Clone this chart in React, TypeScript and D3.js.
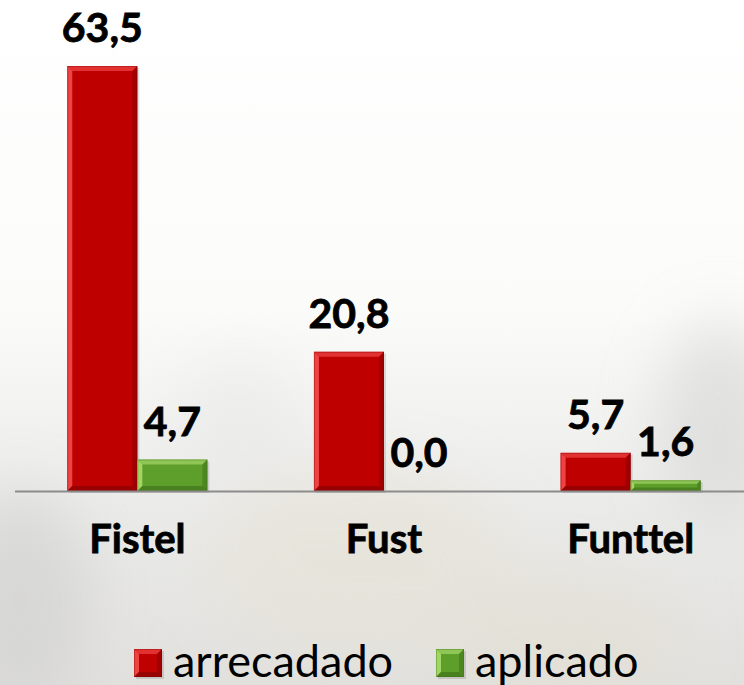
import React from "react";
import * as d3 from "d3";

const categories = ["Fistel", "Fust", "Funttel"];
const seriesNames = ["arrecadado", "aplicado"];
const arrecadado = [63.5, 20.8, 5.7];
const aplicado = [4.7, 0.0, 1.6];
const valueLabels = [["63,5", "20,8", "5,7"], ["4,7", "0,0", "1,6"]];

const W = 744;
const H = 685;
const BASE = 491;
const TOP = 66;
const FONT = "Lato, 'Open Sans', sans-serif";
const noLig = { fontVariantLigatures: "none", fontFeatureSettings: "'liga' 0, 'clig' 0" } as React.CSSProperties;

const colors = [
  { base: "#BF0000", light: "#FF5A5A", dark: "#7A0000" },
  { base: "#5E9E2A", light: "#B8E878", dark: "#3A6A18" },
];

function BevelRect({ x, y, w, h, c }: { x: number; y: number; w: number; h: number; c: { base: string; light: string; dark: string } }) {
  const b = Math.min(5, w / 4, h / 3);
  const x2 = x + w;
  const y2 = y + h;
  return (
    <g>
      <rect x={x + 2} y={y + 2} width={w} height={h} fill="#000" opacity={0.12} />
      <rect x={x} y={y} width={w} height={h} fill={c.base} />
      {h > 2 && (
        <>
          <polygon points={`${x},${y} ${x + b},${y + b} ${x + b},${y2 - b} ${x},${y2}`} fill={c.light} opacity={0.75} />
          <polygon points={`${x},${y} ${x2},${y} ${x2 - b},${y + b} ${x + b},${y + b}`} fill={c.light} opacity={0.55} />
          <polygon points={`${x2},${y} ${x2},${y2} ${x2 - b},${y2 - b} ${x2 - b},${y + b}`} fill={c.dark} opacity={0.45} />
          <polygon points={`${x},${y2} ${x2},${y2} ${x2 - b},${y2 - b} ${x + b},${y2 - b}`} fill={c.dark} opacity={0.55} />
        </>
      )}
      <rect x={x + 0.5} y={y + 0.5} width={Math.max(0, w - 1)} height={Math.max(0, h - 1)} fill="none" stroke={c.dark} strokeOpacity={0.35} strokeWidth={1} />
    </g>
  );
}

export default function App() {
  const series = [arrecadado, aplicado];
  const maxV = d3.max(arrecadado.concat(aplicado)) as number;
  const y = d3.scaleLinear().domain([0, maxV]).range([BASE, TOP]);
  const x0 = d3.scaleBand<string>().domain(categories).range([14, 754]).paddingInner(0.432).paddingOuter(0.216);
  const x1 = d3.scaleBand<string>().domain(seriesNames).range([0, x0.bandwidth()]).padding(0);
  const legendX = [134, 436];

  return (
    <svg width={W} height={H} style={{ position: "absolute", left: 0, top: 0, display: "block" }}>
      <defs>
        <linearGradient id="bg" x1="0" y1="0" x2="0" y2="1">
          <stop offset="0" stopColor="#ffffff" />
          <stop offset="0.45" stopColor="#fbfbfa" />
          <stop offset="0.75" stopColor="#eaeae8" />
          <stop offset="1" stopColor="#e1e0dd" />
        </linearGradient>
        <filter id="blur" x="-50%" y="-50%" width="200%" height="200%">
          <feGaussianBlur stdDeviation="30" />
        </filter>
      </defs>
      <rect width={W} height={H} fill="url(#bg)" />
      <g filter="url(#blur)" opacity={0.6}>
        <ellipse cx={20} cy={600} rx={70} ry={110} fill="#cfcfcf" />
        <ellipse cx={360} cy={560} rx={150} ry={90} fill="#e6e2d6" />
        <ellipse cx={720} cy={420} rx={60} ry={100} fill="#d4d4d4" />
        <ellipse cx={560} cy={640} rx={120} ry={60} fill="#e3dfd2" />
        <ellipse cx={240} cy={430} rx={60} ry={70} fill="#e8e8e6" />
      </g>

      {series.map((vals, si) =>
        vals.map((v, ci) => {
          const cat = categories[ci];
          const bx = (x0(cat) as number) + (x1(seriesNames[si]) as number);
          const bw = x1.bandwidth();
          const top = y(v);
          return (
            <g key={`${si}-${ci}`}>
              {v > 0 && <BevelRect x={bx} y={top} w={bw} h={BASE - top} c={colors[si]} />}
              <text
                x={bx + bw / 2}
                y={top - 24}
                textAnchor="middle"
                fontFamily={FONT}
                fontWeight={700}
                fontSize={41}
                fill="#000"
                stroke="#000"
                strokeWidth={0.8}
                style={noLig}
              >
                {valueLabels[si][ci]}
              </text>
            </g>
          );
        })
      )}

      <line x1={15} x2={W} y1={BASE + 0.5} y2={BASE + 0.5} stroke="#8c8c8c" strokeWidth={2} />

      {categories.map((c) => (
        <text
          key={c}
          x={(x0(c) as number) + x0.bandwidth() / 2}
          y={553}
          textAnchor="middle"
          fontFamily={FONT}
          fontWeight={700}
          fontSize={40}
          fill="#000"
          stroke="#000"
          strokeWidth={0.8}
          style={noLig}
        >
          {c}
        </text>
      ))}

      {seriesNames.map((s, i) => (
        <g key={s} transform={`translate(${legendX[i]},649)`}>
          <BevelRect x={0} y={0} w={28} h={28} c={colors[i]} />
          <text x={39} y={28} fontFamily={FONT} fontSize={45} fill="#000" style={noLig}>
            {s}
          </text>
        </g>
      ))}
    </svg>
  );
}
